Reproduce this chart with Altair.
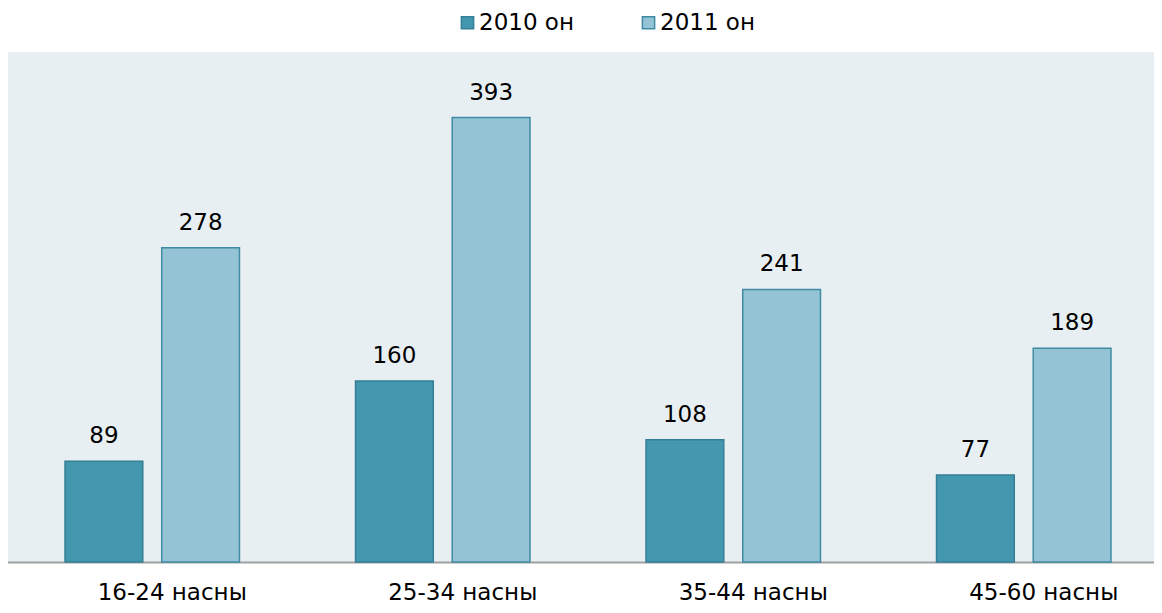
import altair as alt
import pandas as pd

categories = ["16-24 насны", "25-34 насны", "35-44 насны", "45-60 насны"]
series = ["2010 он", "2011 он"]
values_2010 = [89, 160, 108, 77]
values_2011 = [278, 393, 241, 189]

rows = []
for i, c in enumerate(categories):
    rows.append({"cat": c, "year": series[0], "value": values_2010[i]})
    rows.append({"cat": c, "year": series[1], "value": values_2011[i]})
df = pd.DataFrame(rows)

FONT = "DejaVu Sans"
fills = ["#4398b0", "#93c3d5"]
strokes = ["#357f95", "#3f8ba3"]

x = alt.X("cat:N", sort=categories, title=None,
          scale=alt.Scale(paddingInner=0, paddingOuter=0, range=[-1, 1161]),
          axis=alt.Axis(labelAngle=0, labelFontSize=23, labelFont=FONT, labelColor="#000000",
                        ticks=False, domainColor="#a0a0a0", domainWidth=2,
                        labelPadding=19, labelOffset=20))
xo = alt.XOffset("year:N", sort=series,
                 scale=alt.Scale(paddingInner=0.196, paddingOuter=0.6))
y = alt.Y("value:Q", scale=alt.Scale(domain=[0, 451], nice=False), axis=None)

bars = alt.Chart(df).mark_bar(strokeWidth=1.5).encode(
    x=x, xOffset=xo, y=y,
    color=alt.Color("year:N", sort=series, title=None,
                    scale=alt.Scale(domain=series, range=fills),
                    legend=alt.Legend(orient="none", legendX=448, legendY=-41,
                                      direction="horizontal", symbolType="square",
                                      symbolSize=150, labelFontSize=23, labelFont=FONT,
                                      labelColor="#000000", labelOffset=0,
                                      columnPadding=63, symbolStrokeWidth=1.5,
                                      symbolOpacity=1)),
    stroke=alt.Stroke("year:N", sort=series, scale=alt.Scale(domain=series, range=strokes),
                      legend=None),
)

labels = alt.Chart(df).mark_text(fontSize=23, font=FONT, color="#000000",
                                 baseline="alphabetic", dy=-18).encode(
    x=x, xOffset=xo, y=y, text=alt.Text("value:Q")
)

chart = alt.layer(bars, labels).properties(
    width=1146, height=510,
    autosize=alt.AutoSizeParams(type="none"),
    padding={"left": 0, "top": 44, "right": 0, "bottom": 43},
).configure_view(fill="#e8eff3", stroke=None)

chart.save("out.html", embed_options={"renderer": "svg", "actions": False})
